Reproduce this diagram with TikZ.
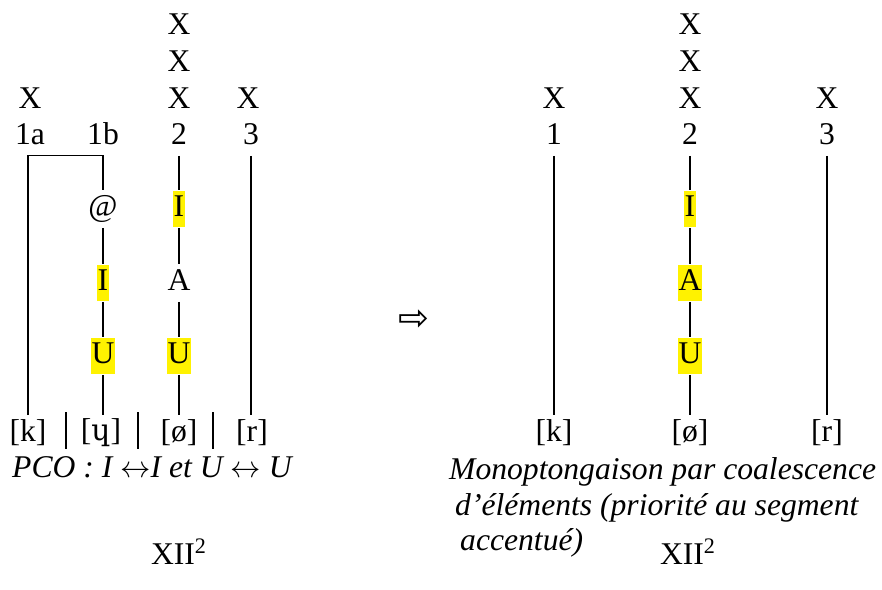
\documentclass[tikz,border=0pt]{standalone}
\usepackage{fontspec}
\setmainfont{Liberation Serif}
\newfontfamily\symfont{DejaVu Sans}
\newfontfamily\ipafont{DejaVu Serif}
\usepackage{tikz}

\tikzset{
  elt/.style={inner xsep=0.6pt, inner ysep=0pt, text height=15pt, text depth=6pt},
  hl/.style={elt, fill=yellow},
  ln/.style={line width=0.6pt}
}
\newcommand{\lrarr}{$\leftrightarrow$}

\begin{document}
\begin{tikzpicture}[x=0.02cm, y=-0.02cm, font=\fontsize{18}{22}\selectfont]
            \useasboundingbox (0,0) rectangle (882,589);
            % left: skeleta
            \node[elt] (xa) at (30,101) {X};
            \node[elt] (xc1) at (179,27) {X};
            \node[elt] (xc2) at (179,64) {X};
            \node[elt] (xc3) at (179,101) {X};
            \node[elt] (xd) at (248,101) {X};
            \node[elt] (na) at (30,137) {1a};
            \node[elt] (nb) at (103,137) {1b};
            \node[elt] (nc) at (179,137) {2};
            \node[elt] (nd) at (251,137) {3};
            % left: elements
            \node[elt] (at) at (103,209) {@};
            \node[hl] (ib) at (103,283) {I};
            \node[hl] (ub) at (103,356) {U};
            \node[hl] (ic) at (179,209) {I};
            \node[elt] (ac) at (179,283) {A};
            \node[hl] (uc) at (179,356) {U};
            % left: segments
            \node[elt] (ka) at (28,434) {[k]};
            \node[elt] (hb) at (101,433) {[{\ipafont\fontsize{17}{20}\selectfont ɥ}]};
            \node[elt] (oc) at (179,434) {[ø]};
            \node[elt] (rd) at (252,434) {[r]};
            \draw[ln] (ka.north) -- (ka.north |- na.south) -| (at.north);
            \draw[ln] (at) -- (ib) -- (ub) -- (ub |- ka.north);
            \draw[ln] (nc) -- (ic) -- (ac) -- (uc) -- (uc |- ka.north);
            \draw[ln] (nd) -- (nd |- ka.north);
            \foreach \x in {66,138,213}
              \draw[ln] (\x,412) -- (\x,449);
            \node[anchor=west] (pco) at (6,467) {\itshape PCO : I \lrarr{}I et U \lrarr\ U};
            \node (xiia) at (179,552) {XII\textsuperscript{2}};
            % arrow
            \node (arr) at (414,320) {\symfont\fontsize{21}{21}\selectfont ⇨};
            % right: skeleta
            \node[elt] (rxa) at (554,101) {X};
            \node[elt] (rxb1) at (690,27) {X};
            \node[elt] (rxb2) at (690,64) {X};
            \node[elt] (rxb3) at (690,101) {X};
            \node[elt] (rxc) at (827,101) {X};
            \node[elt] (rna) at (554,137) {1};
            \node[elt] (rnb) at (690,137) {2};
            \node[elt] (rnc) at (827,137) {3};
            % right: elements
            \node[hl] (rib) at (690,209) {I};
            \node[hl] (rab) at (690,283) {A};
            \node[hl] (rub) at (690,356) {U};
            \node[elt] (rka) at (554,434) {[k]};
            \node[elt] (rob) at (690,434) {[ø]};
            \node[elt] (rrc) at (827,434) {[r]};
            \draw[ln] (rna) -- (rka);
            \draw[ln] (rnb) -- (rib) -- (rab) -- (rub) -- (rob);
            \draw[ln] (rnc) -- (rrc);
            \node[anchor=west] (mono1) at (443,472) {\itshape Monoptongaison par coalescence};
            \node[anchor=west] (mono2) at (449,508) {\itshape d’éléments (priorité au segment};
            \node[anchor=west] (mono3) at (454,543) {\itshape accentué)};
            \node (xiib) at (688,552) {XII\textsuperscript{2}};
        \end{tikzpicture}
\end{document}
